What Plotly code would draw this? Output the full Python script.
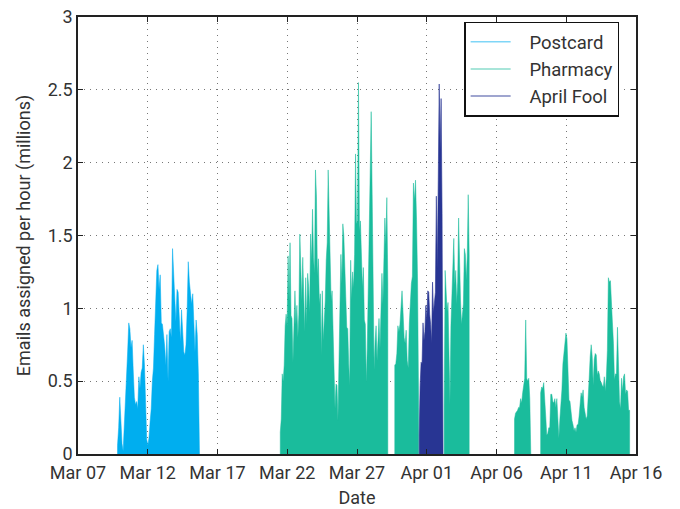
import pandas as pd
import plotly.graph_objects as go

# ---- data (millions of emails per hour) ----
postcard_start, postcard_end = "2014-03-09 20:00", "2014-03-15 17:00"
postcard = [0.06, 0.18, 0.39, 0.23, 0.07, 0.02, 0.17, 0.34, 0.48, 0.7, 0.9, 0.86, 0.73, 0.78,
            0.57, 0.39, 0.34, 0.36, 0.31, 0.53, 0.45, 0.56, 0.59, 0.75, 0.61, 0.26, 0.1, 0.06,
            0.11, 0.22, 0.31, 0.5, 0.59, 0.82, 1.02, 1.26, 1.3, 1.13, 1.23, 0.9, 0.89, 0.83,
            0.74, 0.61, 0.82, 0.5, 0.84, 0.86, 0.8, 1.41, 1.18, 1.07, 0.91, 1.13, 1.11, 0.98,
            0.77, 0.99, 0.84, 0.7, 0.68, 0.75, 0.98, 1.32, 1.18, 1.1, 1.03, 1.1, 0.84, 0.7,
            0.92, 0.82, 0.55, 0.07]

pharmacy_1_start, pharmacy_1_end = "2014-03-21 12:00", "2014-03-29 05:00"
pharmacy_1 = [0.15, 0.24, 0.55, 0.5, 0.61, 0.88, 0.96, 0.88, 1.36, 1.05, 1.45, 0.95, 0.93, 0.63,
              0.94, 1.12, 0.89, 1.02, 0.8, 0.96, 1.51, 1.32, 1.05, 1.35, 0.96, 0.84, 1.21, 0.89,
              1.24, 1.15, 0.97, 1.51, 1.32, 1.68, 1.35, 1.24, 1.95, 1.77, 1.22, 1.34, 1.03, 1.1,
              0.68, 1.12, 0.78, 0.92, 1.05, 1.33, 1.45, 1.95, 1.71, 1.35, 1.05, 1.12, 0.81, 0.66,
              0.31, 0.48, 0.47, 0.23, 0.54, 0.88, 1.37, 1.17, 1.58, 1.5, 1.21, 1.08, 0.87, 0.86,
              0.62, 0.47, 1.33, 1.06, 1.25, 1.14, 1.37, 2.06, 1.58, 1.6, 2.55, 1.53, 1.6, 1.29,
              1.14, 1.28, 0.92, 0.89, 0.49, 0.73, 1.17, 1.44, 1.95, 2.35, 1.78, 1.18, 0.58, 0.77,
              0.88, 0.64, 0.8, 0.93, 0.72, 1.1, 1.24, 1.03, 1.46, 1.62, 1.44, 1.76, 1.17]

pharmacy_2_start, pharmacy_2_end = "2014-03-29 17:00", "2014-03-31 10:00"
pharmacy_2 = [0.61, 0.62, 0.69, 0.88, 0.84, 0.89, 1.05, 1.12, 0.97, 0.8, 0.76, 0.85, 0.64, 0.59,
              0.89, 1.05, 1.17, 1.22, 1.86, 1.74, 1.88, 1.61, 1.18, 0.32]

april_fool_start, april_fool_end = "2014-03-31 11:00", "2014-04-02 04:00"
april_fool = [0.13, 0.47, 0.63, 0.62, 0.9, 0.78, 0.84, 1.02, 0.92, 1.12, 1.11, 0.96, 0.89, 0.76,
              1.18, 0.97, 1.03, 1.11, 1.77, 1.27, 1.88, 2.54, 2.09, 2.44, 1.65, 0.24]

pharmacy_3_start, pharmacy_3_end = "2014-04-02 06:00", "2014-04-04 01:00"
pharmacy_3 = [0.34, 1.26, 1.14, 0.98, 1.04, 0.62, 0.34, 0.88, 1.08, 1.32, 1.48, 1.16, 1.26, 1.03,
              1.18, 1.62, 1.25, 1.05, 0.89, 0.96, 1.03, 1.41, 1.37, 1.19, 1.36, 1.78, 1.37]

pharmacy_4_start, pharmacy_4_end = "2014-04-07 07:00", "2014-04-08 11:00"
pharmacy_4 = [0.24, 0.28, 0.29, 0.3, 0.32, 0.32, 0.38, 0.35, 0.42, 0.49, 0.52, 0.92, 0.52, 0.5,
              0.52, 0.38, 0.07]

pharmacy_5_start, pharmacy_5_end = "2014-04-09 04:00", "2014-04-15 13:00"
pharmacy_5 = [0.42, 0.46, 0.45, 0.49, 0.32, 0.26, 0.13, 0.14, 0.18, 0.18, 0.41, 0.41, 0.36, 0.35,
              0.38, 0.32, 0.38, 0.18, 0.11, 0.24, 0.32, 0.44, 0.62, 0.68, 0.77, 0.83, 0.79, 0.59,
              0.37, 0.36, 0.27, 0.23, 0.2, 0.16, 0.18, 0.15, 0.2, 0.2, 0.26, 0.36, 0.42, 0.39,
              0.44, 0.32, 0.28, 0.24, 0.26, 0.46, 0.52, 0.67, 0.75, 0.67, 0.47, 0.65, 0.69, 0.68,
              0.54, 0.57, 0.55, 0.5, 0.49, 0.47, 0.46, 0.53, 0.43, 0.53, 0.71, 1.21, 1.18, 1.19,
              1.08, 0.9, 0.76, 0.51, 0.55, 0.55, 0.87, 0.47, 0.36, 0.31, 0.52, 0.43, 0.53, 0.55,
              0.41, 0.44, 0.43, 0.3, 0.3]

x_ticks = ["2014-03-07", "2014-03-12", "2014-03-17", "2014-03-22", "2014-03-27",
           "2014-04-01", "2014-04-06", "2014-04-11", "2014-04-16"]
x_tick_labels = ["Mar 07", "Mar 12", "Mar 17", "Mar 22", "Mar 27",
                 "Apr 01", "Apr 06", "Apr 11", "Apr 16"]
y_ticks = [0, 0.5, 1, 1.5, 2, 2.5, 3]
y_tick_labels = ["0", "0.5", "1", "1.5", "2", "2.5", "3"]

COL = {
    "Postcard": ("#00AEEF", "rgba(0,174,239,0.5)"),
    "Pharmacy": ("#1ABC9C", "rgba(26,188,156,0.5)"),
    "April Fool": ("#283593", "rgba(40,53,147,0.6)"),
}

blocks = [
    ("Postcard", postcard_start, postcard_end, postcard),
    ("Pharmacy", pharmacy_1_start, pharmacy_1_end, pharmacy_1),
    ("Pharmacy", pharmacy_2_start, pharmacy_2_end, pharmacy_2),
    ("April Fool", april_fool_start, april_fool_end, april_fool),
    ("Pharmacy", pharmacy_3_start, pharmacy_3_end, pharmacy_3),
    ("Pharmacy", pharmacy_4_start, pharmacy_4_end, pharmacy_4),
    ("Pharmacy", pharmacy_5_start, pharmacy_5_end, pharmacy_5),
]

fig = go.Figure()
for name, s, e, vals in blocks:
    t = list(pd.date_range(s, e, periods=len(vals)))
    xs = [t[0]] + t + [t[-1]]
    ys = [0] + vals + [0]
    fill, line = COL[name]
    fig.add_trace(go.Scatter(x=xs, y=ys, mode="lines", fill="tozeroy",
                             fillcolor=fill, line=dict(color=line, width=1),
                             showlegend=False, hoverinfo="skip"))

pad = "\u00a0\u00a0\u00a0"
for name in ["Postcard", "Pharmacy", "April Fool"]:
    fig.add_trace(go.Scatter(x=[None], y=[None], mode="lines", name=pad + name,
                             line=dict(color=COL[name][1], width=1.5)))

font = "Roboto, 'DejaVu Sans', sans-serif"
fig.update_layout(
    width=680, height=509,
    margin=dict(l=78, r=44, t=17, b=55),
    paper_bgcolor="white", plot_bgcolor="white",
    font=dict(family=font, size=18, color="#333333"),
    legend=dict(x=0.692, y=0.989, xanchor="left", yanchor="top",
                bordercolor="#111111", borderwidth=1.5, bgcolor="white",
                font=dict(size=18.5, color="#333333"), itemwidth=40,
                tracegroupgap=0),
    showlegend=True,
)
fig.update_xaxes(
    type="date", range=["2014-03-07", "2014-04-16"],
    tickvals=x_ticks, ticktext=x_tick_labels,
    showgrid=True, gridcolor="#777777", griddash="1px,5px", gridwidth=1,
    showline=True, linecolor="#222222", linewidth=1.5, mirror="ticks",
    ticks="inside", ticklen=5, tickcolor="#222222", ticklabelstandoff=2,
    ticklabeloverflow="allow",
    title=dict(text="Date", font=dict(size=18), standoff=9),
    zeroline=False, automargin=False,
)
fig.update_yaxes(
    range=[0, 3], tickvals=y_ticks, ticktext=y_tick_labels,
    showgrid=True, gridcolor="#777777", griddash="1px,5px", gridwidth=1,
    showline=True, linecolor="#222222", linewidth=1.5, mirror="ticks",
    ticks="inside", ticklen=5, tickcolor="#222222",
    ticklabeloverflow="allow",
    title=dict(text="Emails assigned per hour (millions)", font=dict(size=18), standoff=12),
    zeroline=False, automargin=False,
)

fig.write_html("out.html", config={"displayModeBar": False},
               post_script="document.body.style.margin='0';")
